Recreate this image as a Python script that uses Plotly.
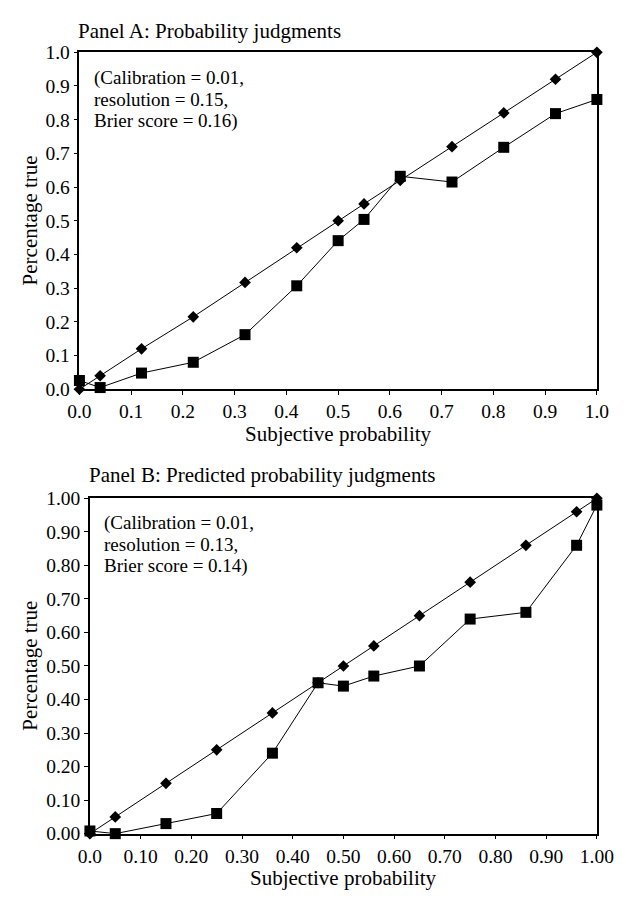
import plotly.graph_objects as go

W, H = 626, 901

# ---------------- Data ----------------
# Panel A: Probability judgments
a_diamond_x = [0.00, 0.04, 0.12, 0.22, 0.32, 0.42, 0.50, 0.55, 0.62, 0.72, 0.82, 0.92, 1.00]
a_diamond_y = [0.00, 0.04, 0.12, 0.215, 0.317, 0.42, 0.50, 0.55, 0.62, 0.72, 0.82, 0.92, 1.00]
a_square_x = [0.00, 0.04, 0.12, 0.22, 0.32, 0.42, 0.50, 0.55, 0.62, 0.72, 0.82, 0.92, 1.00]
a_square_y = [0.026, 0.005, 0.048, 0.08, 0.162, 0.307, 0.441, 0.504, 0.632, 0.615, 0.718, 0.818, 0.86]

# Panel B: Predicted probability judgments
b_diamond_x = [0.00, 0.05, 0.15, 0.25, 0.36, 0.45, 0.50, 0.56, 0.65, 0.75, 0.86, 0.96, 1.00]
b_diamond_y = [0.00, 0.05, 0.15, 0.25, 0.36, 0.45, 0.50, 0.56, 0.65, 0.75, 0.86, 0.96, 1.00]
b_square_x = [0.00, 0.05, 0.15, 0.25, 0.36, 0.45, 0.50, 0.56, 0.65, 0.75, 0.86, 0.96, 1.00]
b_square_y = [0.008, 0.00, 0.03, 0.06, 0.24, 0.45, 0.44, 0.47, 0.50, 0.64, 0.66, 0.86, 0.98]

a_ticks = [0.0, 0.1, 0.2, 0.3, 0.4, 0.5, 0.6, 0.7, 0.8, 0.9, 1.0]
a_xticktext = ["0.0", "0.1", "0.2", "0.3", "0.4", "0.5", "0.6", "0.7", "0.8", "0.9", "1.0"]
a_yticktext = ["0.0", "0.1", "0.2", "0.3", "0.4", "0.5", "0.6", "0.7", "0.8", "0.9", "1.0"]
b_xticktext = ["0.0", "0.10", "0.20", "0.30", "0.40", "0.50", "0.60", "0.70", "0.80", "0.90", "1.00"]
b_yticktext = ["0.00", "0.10", "0.20", "0.30", "0.40", "0.50", "0.60", "0.70", "0.80", "0.90", "1.00"]

a_title = "Panel A: Probability judgments"
b_title = "Panel B: Predicted probability judgments"
a_note = ["(Calibration = 0.01,", "resolution = 0.15,", "Brier score = 0.16)"]
b_note = ["(Calibration = 0.01,", "resolution = 0.13,", "Brier score = 0.14)"]
x_title = "Subjective probability"
y_title = "Percentage true"

FONT = "Liberation Serif, Times New Roman, serif"

# ---------------- Layout geometry (pixels) ----------------
A_L, A_R, A_T, A_B = 70.7, 613.3, 43.3, 388.3
B_L, B_R, B_T, B_B = 81.7, 613.3, 500.0, 843.3

def px(x):
    return x / W

def py(y):
    return 1 - y / H

fig = go.Figure()

def add_series(xs, ys, symbol, size, xa, ya):
    fig.add_trace(go.Scatter(
        x=xs, y=ys, mode="lines+markers",
        line=dict(color="black", width=1),
        marker=dict(symbol=symbol, size=size, color="black", line=dict(width=0)),
        xaxis=xa, yaxis=ya, cliponaxis=False, showlegend=False,
    ))

add_series(a_diamond_x, a_diamond_y, "diamond", 9, "x", "y")
add_series(a_square_x, a_square_y, "square", 11, "x", "y")
add_series(b_diamond_x, b_diamond_y, "diamond", 9, "x2", "y2")
add_series(b_square_x, b_square_y, "square", 11, "x2", "y2")

axis_common = dict(
    range=[0, 1], showgrid=False, zeroline=False,
    showline=True, linecolor="black", linewidth=1.5, mirror=True,
    ticks="outside", ticklen=4, tickwidth=1, tickcolor="black",
    tickfont=dict(family=FONT, size=19.5, color="black"),
    tickmode="array", fixedrange=True,
)

fig.update_layout(
    width=W, height=H,
    margin=dict(l=0, r=0, t=0, b=0),
    paper_bgcolor="white", plot_bgcolor="white",
    xaxis=dict(axis_common, domain=[px(A_L), px(A_R)], anchor="y",
               tickvals=a_ticks, ticktext=a_xticktext),
    yaxis=dict(axis_common, domain=[py(A_B), py(A_T)], anchor="x",
               tickvals=a_ticks, ticktext=a_yticktext),
    xaxis2=dict(axis_common, domain=[px(B_L), px(B_R)], anchor="y2",
                tickvals=a_ticks, ticktext=b_xticktext),
    yaxis2=dict(axis_common, domain=[py(B_B), py(B_T)], anchor="x2",
                tickvals=a_ticks, ticktext=b_yticktext),
)

ann = []
def text(t, x, y, size, xanchor="left", angle=0):
    ann.append(dict(text=t, x=px(x), y=py(y), xref="paper", yref="paper",
                    xanchor=xanchor, yanchor="middle", showarrow=False,
                    textangle=angle, borderpad=0,
                    font=dict(family=FONT, size=size, color="black")))

# Panel titles
text(a_title, 68, 22, 21)
text(b_title, 80, 476, 21)
# Notes
for i, line in enumerate(a_note):
    text(line, 85, 70 + i * 21.7, 19)
for i, line in enumerate(b_note):
    text(line, 95, 525 + i * 22, 19)
# Axis titles
text(x_title, (A_L + A_R) / 2, 434, 21, xanchor="center")
text(x_title, (B_L + B_R) / 2, 889, 21, xanchor="center")
text(y_title, 18.5, (A_T + A_B) / 2, 21, xanchor="center", angle=-90)
text(y_title, 18.5, (B_T + B_B) / 2, 21, xanchor="center", angle=-90)

fig.update_layout(annotations=ann)

fig.write_html("out.html")
